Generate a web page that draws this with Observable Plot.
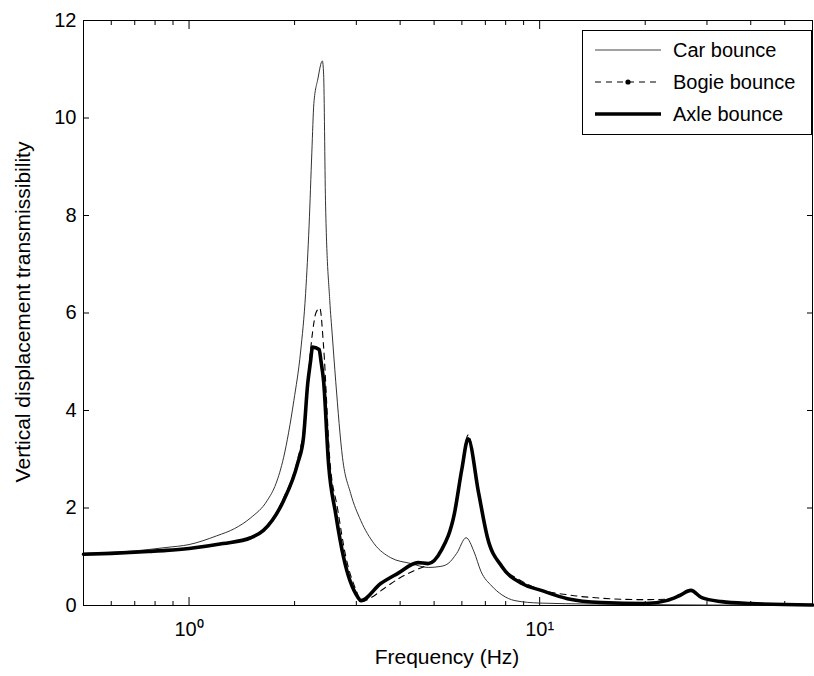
<!DOCTYPE html>
<html>
<head>
<meta charset="utf-8">
<script src="https://cdn.jsdelivr.net/npm/d3@7"></script>
<script src="https://cdn.jsdelivr.net/npm/@observablehq/plot@0.6"></script>
<style>
  html, body { margin: 0; padding: 0; background: #fff; }
  #chart { width: 814px; height: 676px; }
  svg { font-family: "Liberation Sans", Arial, Helvetica, sans-serif; }
</style>
</head>
<body>
<div id="chart"></div>
<script>
// ---- Data ----
const carFreq = [0.5, 0.6, 0.7, 0.77, 0.86, 1.0, 1.2, 1.35, 1.5, 1.67, 1.77, 1.86, 1.99, 2.08, 2.15, 2.2, 2.24, 2.27, 2.33, 2.40, 2.42, 2.45, 2.52, 2.56, 2.62, 2.74, 2.89, 3.09, 3.37, 3.76, 4.3, 4.81, 5.2, 5.48, 5.8, 6.17, 6.5, 6.8, 7.3, 7.8, 8.5, 10, 14, 20, 30, 45, 60];
const carVal  = [1.07, 1.09, 1.12, 1.15, 1.19, 1.25, 1.43, 1.58, 1.80, 2.15, 2.5, 3.03, 4.2, 5.2, 6.4, 7.8, 9.3, 10.3, 10.8, 11.17, 10.9, 8.3, 6.25, 5.57, 4.6, 3.03, 2.3, 1.74, 1.27, 0.98, 0.86, 0.78, 0.80, 0.86, 1.07, 1.39, 1.1, 0.70, 0.40, 0.22, 0.10, 0.05, 0.03, 0.02, 0.01, 0.01, 0.0];

const bogieFreq = [0.5, 0.6, 0.77, 0.86, 1.0, 1.25, 1.5, 1.63, 1.86, 2.04, 2.12, 2.18, 2.25, 2.30, 2.36, 2.42, 2.52, 2.65, 2.8, 3.0, 3.1, 3.3, 3.6, 4.0, 4.4, 4.8, 5.24, 5.71, 6.0, 6.25, 6.7, 7.1, 7.8, 8.9, 10, 12, 15, 20, 23, 25, 27, 29, 33, 40, 60];
const bogieVal  = [1.05, 1.07, 1.11, 1.13, 1.17, 1.27, 1.40, 1.56, 2.2, 3.0, 3.6, 4.6, 5.6, 6.0, 6.1, 5.3, 3.0, 2.0, 1.0, 0.3, 0.08, 0.16, 0.35, 0.57, 0.72, 0.85, 1.13, 1.9, 2.85, 3.5, 2.3, 1.4, 0.82, 0.5, 0.33, 0.22, 0.15, 0.12, 0.13, 0.2, 0.3, 0.16, 0.08, 0.04, 0.01];

const axleFreq = [0.5, 0.6, 0.77, 0.86, 1.0, 1.25, 1.5, 1.63, 1.86, 2.04, 2.12, 2.18, 2.22, 2.25, 2.35, 2.38, 2.42, 2.50, 2.62, 2.76, 3.03, 3.09, 3.52, 3.94, 4.5, 4.81, 5.24, 5.71, 6.0, 6.25, 6.7, 7.1, 7.8, 8.9, 10.1, 12, 15, 20, 23, 25, 27, 29, 33, 40, 60];
const axleVal  = [1.05, 1.07, 1.11, 1.13, 1.17, 1.27, 1.39, 1.54, 2.15, 2.91, 3.44, 4.55, 5.0, 5.3, 5.25, 5.0, 4.6, 2.9, 1.88, 0.98, 0.17, 0.10, 0.45, 0.66, 0.88, 0.86, 1.13, 1.88, 2.8, 3.42, 2.3, 1.39, 0.80, 0.45, 0.31, 0.14, 0.06, 0.04, 0.1, 0.2, 0.31, 0.16, 0.08, 0.04, 0.01];

const yTicks = [0, 2, 4, 6, 8, 10, 12];
const xMajor = [1, 10];
const xMinor = [0.5, 0.6, 0.7, 0.8, 0.9, 2, 3, 4, 5, 6, 7, 8, 9, 20, 30, 40, 50, 60];
const seriesNames = ["Car bounce", "Bogie bounce", "Axle bounce"];

const sup = {"0": "\u2070", "1": "\u00B9", "2": "\u00B2"};
const fmtX = d => "10" + sup[String(Math.round(Math.log10(d)))];

const car = carFreq.map((f, i) => ({f, v: carVal[i]}));
const bogie = bogieFreq.map((f, i) => ({f, v: bogieVal[i]}));
const axle = axleFreq.map((f, i) => ({f, v: axleVal[i]}));

const chart = Plot.plot({
  width: 814,
  height: 676,
  marginLeft: 83,
  marginRight: 2,
  marginTop: 20,
  marginBottom: 71,
  style: {fontFamily: '"Liberation Sans", Arial, Helvetica, sans-serif', fontSize: "20px", color: "#000", background: "#fff"},
  x: {type: "log", domain: [0.5, 60]},
  y: {domain: [0, 12]},
  marks: [
    Plot.frame({stroke: "#000", strokeWidth: 1}),
    // y axis left with inward ticks
    Plot.axisY(yTicks, {anchor: "left", tickSize: -6, tickPadding: 13, label: null, fontSize: 20, stroke: "#000"}),
    Plot.axisY(yTicks, {anchor: "right", tickSize: -6, text: null, label: null, stroke: "#000"}),
    // x axis bottom / top
    Plot.axisX(xMajor, {anchor: "bottom", tickSize: -8, tickPadding: 24, tickFormat: fmtX, label: null, fontSize: 20, stroke: "#000"}),
    Plot.axisX(xMinor, {anchor: "bottom", tickSize: -4, text: null, label: null, stroke: "#000"}),
    Plot.axisX(xMajor, {anchor: "top", tickSize: -8, text: null, label: null, stroke: "#000"}),
    Plot.axisX(xMinor, {anchor: "top", tickSize: -4, text: null, label: null, stroke: "#000"}),
    // curves
    Plot.line(car, {x: "f", y: "v", stroke: "#333", strokeWidth: 1, curve: "monotone-x"}),
    Plot.line(bogie, {x: "f", y: "v", stroke: "#000", strokeWidth: 1.1, strokeDasharray: "6,5", curve: "monotone-x"}),
    Plot.line(axle, {x: "f", y: "v", stroke: "#000", strokeWidth: 3.6, strokeLinejoin: "round", curve: "monotone-x"})
  ]
});

const svg = d3.select(chart);
// axis titles
svg.append("text")
  .attr("x", 447).attr("y", 664)
  .attr("text-anchor", "middle")
  .attr("font-size", 21)
  .attr("fill", "#000")
  .text("Frequency (Hz)");
svg.append("text")
  .attr("transform", "translate(30,312) rotate(-90)")
  .attr("text-anchor", "middle")
  .attr("font-size", 21)
  .attr("fill", "#000")
  .text("Vertical displacement transmissibility");

// legend
const lg = svg.append("g");
lg.append("rect").attr("x", 582.5).attr("y", 30.5).attr("width", 229).attr("height", 104)
  .attr("fill", "#fff").attr("stroke", "#000").attr("stroke-width", 1);
const rowsY = [50, 82, 114];
const styles = [
  {w: 1, dash: null, c: "#444"},
  {w: 1.1, dash: "6,5", c: "#000"},
  {w: 3.6, dash: null, c: "#000"}
];
seriesNames.forEach((name, i) => {
  const s = styles[i];
  const l = lg.append("line").attr("x1", 595).attr("x2", 661).attr("y1", rowsY[i]).attr("y2", rowsY[i])
    .attr("stroke", s.c).attr("stroke-width", s.w);
  if (s.dash) l.attr("stroke-dasharray", s.dash);
  if (i === 1) lg.append("circle").attr("cx", 628).attr("cy", rowsY[i]).attr("r", 2.6).attr("fill", "#000");
  lg.append("text").attr("x", 673).attr("y", rowsY[i]).attr("dy", "0.35em")
    .attr("text-anchor", "start")
    .attr("font-size", 20).attr("fill", "#000").text(name);
});

document.getElementById("chart").appendChild(chart);
</script>
</body>
</html>
